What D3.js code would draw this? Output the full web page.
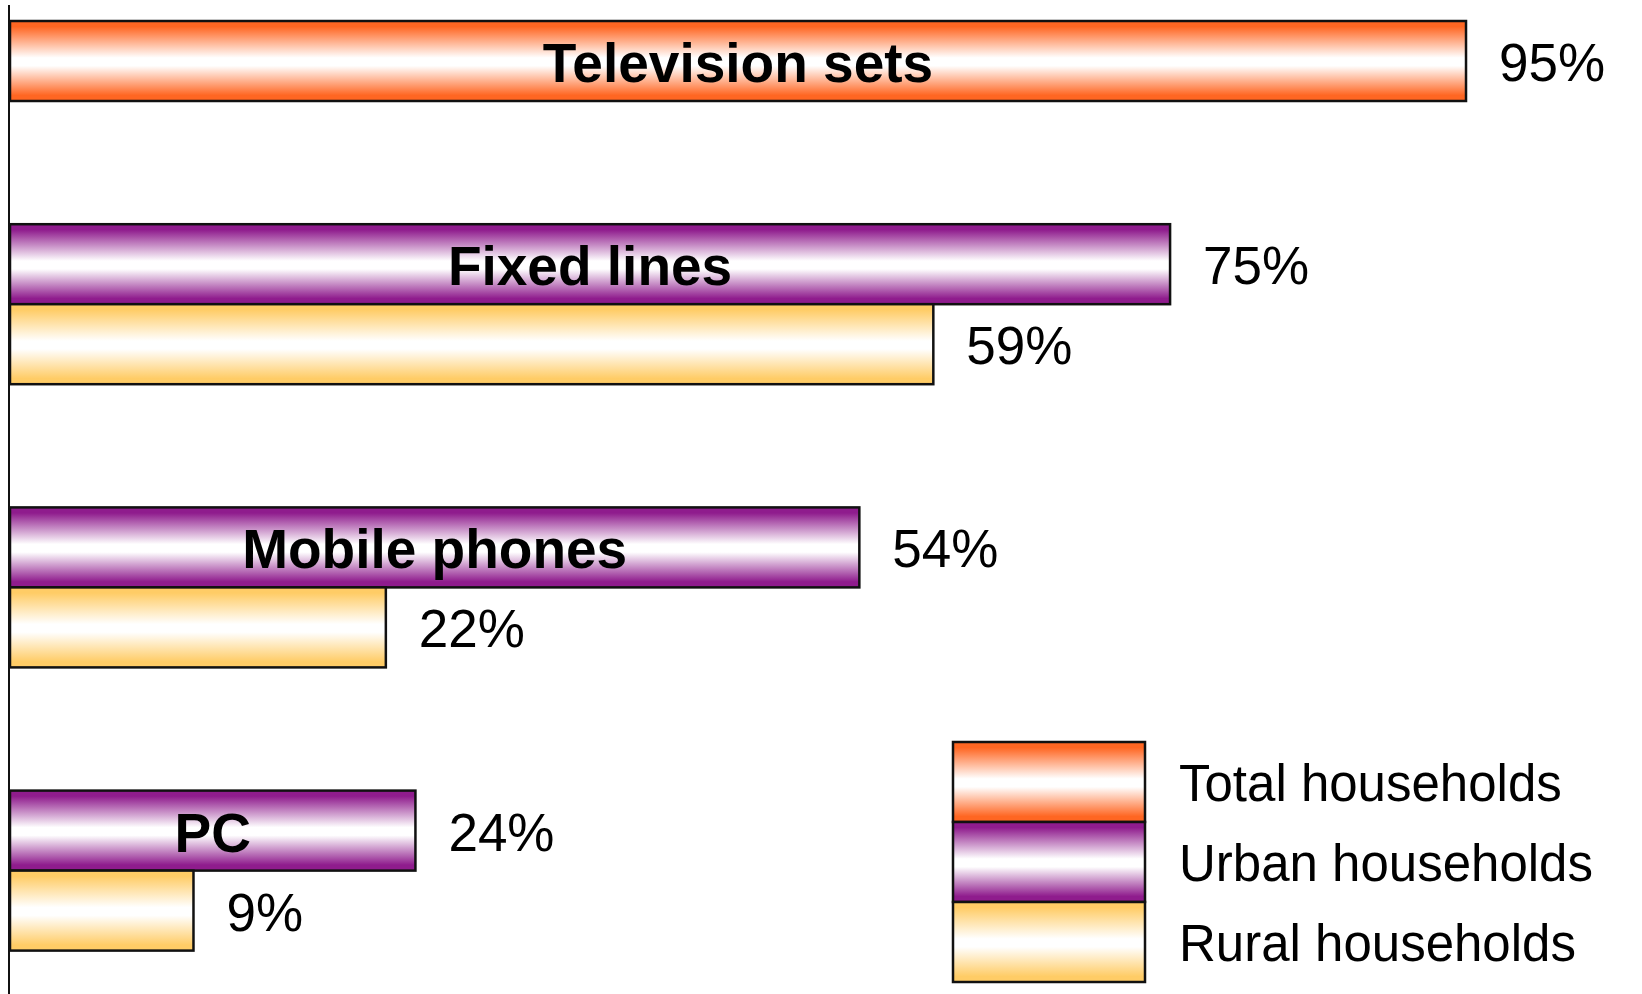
<!DOCTYPE html>
<html>
<head>
<meta charset="utf-8">
<script src="https://d3js.org/d3.v7.min.js"></script>
<style>
  body { margin: 0; background: #fff; }
  svg { display: block; }
</style>
</head>
<body>
<div id="chart"></div>
<script>
var categories = ["Television sets", "Fixed lines", "Mobile phones", "PC"];
var seriesNames = ["Total households", "Urban households", "Rural households"];
var totalValues = [95, null, null, null];
var urbanValues = [null, 75, 54, 24];
var ruralValues = [null, 59, 22, 9];
var seriesColors = ["#ff6622", "#8f1c8d", "#ffcc66"];

var w = 1642,
    h = 994;
var axisX = 10;
var gapRows = 1.54;   // empty space between groups, in bar heights

var svg = d3.select("#chart").append("svg")
   .attr("width", w)
   .attr("height", h);

// gradients: coloured edges, white middle
var defs = svg.append("defs");
seriesColors.forEach(function(c, i) {
  var g = defs.append("linearGradient")
     .attr("id", "grad" + i)
     .attr("x1", 0).attr("y1", 0)
     .attr("x2", 0).attr("y2", 1);
  var stops = [[0, c], [0.07, c], [0.46, "#fff"], [0.56, "#fff"], [0.93, c], [1, c]];
  stops.forEach(function(s) {
    g.append("stop").attr("offset", s[0]).attr("stop-color", s[1]);
  });
});

// the bars in the original do not start at zero exactly
var xScale = d3.scaleLinear()
   .domain([-3.4, 100])
   .range([axisX, 1540]);

// vertical position measured in "bar rows"
var yScale = d3.scaleLinear()
   .domain([0, 1])
   .range([21, 101]);
var barH = yScale(1) - yScale(0);

var allSeries = [totalValues, urbanValues, ruralValues];

// build rows: each category keeps only the series it has
var rows = [];
var rowPos = 0;
categories.forEach(function(cat, ci) {
  var slot = 0;
  allSeries.forEach(function(vals, si) {
    if (vals[ci] != null) {
      rows.push({cat: cat, series: si, value: vals[ci], slot: slot, pos: rowPos + slot});
      slot++;
    }
  });
  rowPos += slot + gapRows;
});

svg.selectAll(".bar")
   .data(rows)
   .enter()
   .append("rect")
   .attr("class", "bar")
   .attr("x", axisX)
   .attr("y", function(d) { return yScale(d.pos); })
   .attr("width", function(d) { return xScale(d.value) - axisX; })
   .attr("height", barH)
   .attr("fill", function(d) { return "url(#grad" + d.series + ")"; })
   .attr("stroke", "#111")
   .attr("stroke-width", 2.5);

svg.selectAll(".valueLabel")
   .data(rows)
   .enter()
   .append("text")
   .attr("class", "valueLabel")
   .attr("x", function(d) { return xScale(d.value) + 33; })
   .attr("y", function(d) { return yScale(d.pos + 0.5) + 20; })
   .attr("font-family", "Liberation Sans, Arial, sans-serif")
   .attr("font-size", 53)
   .attr("fill", "#000")
   .text(function(d) { return d.value + "%"; });

// category name sits centred on the first bar of its group
svg.selectAll(".catLabel")
   .data(rows.filter(function(d) { return d.slot == 0; }))
   .enter()
   .append("text")
   .attr("class", "catLabel")
   .attr("x", function(d) { return (axisX + xScale(d.value)) / 2; })
   .attr("y", function(d) { return yScale(d.pos + 0.5) + 21; })
   .attr("text-anchor", "middle")
   .attr("font-family", "Liberation Sans, Arial, sans-serif")
   .attr("font-weight", "bold")
   .attr("font-size", 55)
   .attr("fill", "#000")
   .text(function(d) { return d.cat; });

// axis line
svg.append("line")
   .attr("x1", 9).attr("x2", 9)
   .attr("y1", 5)
   .attr("y2", h)
   .attr("stroke", "#111")
   .attr("stroke-width", 2);

// legend
var legend = svg.append("g")
   .attr("transform", "translate(953,742)");
legend.selectAll("rect")
   .data(seriesNames)
   .enter()
   .append("rect")
   .attr("x", 0)
   .attr("y", function(d, i) { return i * barH; })
   .attr("width", 192)
   .attr("height", barH)
   .attr("fill", function(d, i) { return "url(#grad" + i + ")"; })
   .attr("stroke", "#111")
   .attr("stroke-width", 2.5);
legend.selectAll("text")
   .data(seriesNames)
   .enter()
   .append("text")
   .attr("x", 226)
   .attr("y", function(d, i) { return i * barH + barH / 2 + 19; })
   .attr("font-family", "Liberation Sans, Arial, sans-serif")
   .attr("font-size", 51)
   .attr("fill", "#000")
   .text(function(d) { return d; });
</script>
</body>
</html>
